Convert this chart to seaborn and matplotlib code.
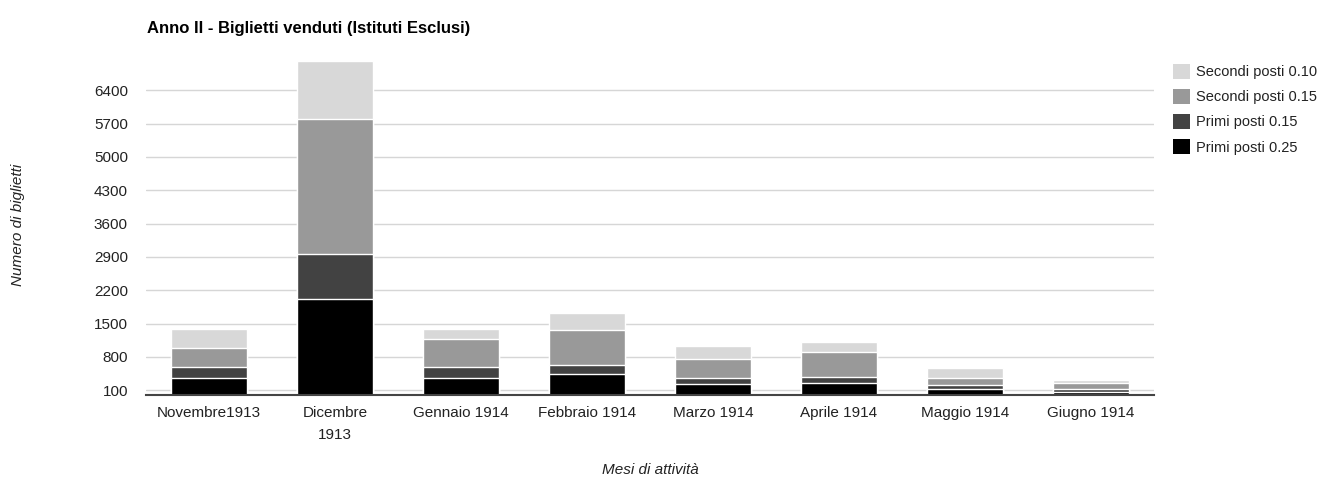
import matplotlib
matplotlib.use("Agg")
import matplotlib.pyplot as plt
import seaborn as sns
import numpy as np
import pandas as pd
from matplotlib.patches import Patch

months = ["Novembre1913", "Dicembre\n1913", "Gennaio 1914", "Febbraio 1914",
          "Marzo 1914", "Aprile 1914", "Maggio 1914", "Giugno 1914"]
primi_025 = [363, 2009, 350, 441, 231, 252, 119, 70]
primi_015 = [225, 945, 245, 196, 133, 133, 84, 49]
secondi_015 = [392, 2849, 581, 721, 392, 511, 161, 126]
secondi_010 = [413, 1217, 203, 364, 273, 224, 210, 70]
series_names = ["Primi posti 0.25", "Primi posti 0.15", "Secondi posti 0.15", "Secondi posti 0.10"]
y_ticks = [100, 800, 1500, 2200, 2900, 3600, 4300, 5000, 5700, 6400]

colors = ["#000000", "#424242", "#999999", "#d8d8d8"]

sns.set_theme(style="white")
plt.rcParams["font.family"] = ["Liberation Sans", "DejaVu Sans"]

fig = plt.figure(figsize=(13.27, 4.79), dpi=100)
W, H = 1327, 479
ax = fig.add_axes([146 / W, (H - 395) / H, (1154 - 146) / W, (395 - 57) / H])

series = [primi_025, primi_015, secondi_015, secondi_010]
cum = np.cumsum(np.array(series), axis=0)
df = pd.DataFrame({"mese": months})
for i in range(4):
    df[f"c{i}"] = cum[i]

for i in reversed(range(4)):
    sns.barplot(data=df, x="mese", y=f"c{i}", color=colors[i], saturation=1,
                width=0.6, edgecolor="white", linewidth=1.0, ax=ax, zorder=3)

ax.set_ylim(0, 7100)
ax.set_xlim(-0.5, len(months) - 0.5)
ax.set_yticks(y_ticks)
ax.yaxis.grid(True, color="#d6d6d6", linewidth=1, zorder=0)
ax.set_axisbelow(True)
for s in ["top", "right", "left"]:
    ax.spines[s].set_visible(False)
ax.spines["bottom"].set_color("#444444")
ax.spines["bottom"].set_linewidth(1.5)
ax.spines["bottom"].set_zorder(5)
ax.tick_params(axis="both", length=0, labelsize=11, colors="#222222")
ax.tick_params(axis="y", pad=13)
ax.tick_params(axis="x", pad=8)
for lab in ax.get_xticklabels():
    lab.set_linespacing(1.7)
ax.set_xlabel("")
ax.set_ylabel("")
fig.text(650 / W, 1 - 470 / H, "Mesi di attività", fontsize=11, style="italic",
         color="#222222", ha="center", va="center")
fig.text(18 / W, 1 - 225 / H, "Numero di biglietti", fontsize=11, style="italic",
         color="#222222", ha="center", va="center", rotation=90)
fig.text(147 / W, 1 - 29 / H, "Anno II - Biglietti venduti (Istituti Esclusi)",
         fontsize=12, fontweight="bold", color="#000000", va="center", ha="left")

handles = [Patch(facecolor=colors[i], edgecolor="none", label=series_names[i]) for i in reversed(range(4))]
fig.legend(handles=handles, loc="upper left", bbox_to_anchor=(1160 / W, 1 - 51 / H),
           frameon=False, fontsize=10.5, handlelength=1.15, handleheight=1.15,
           handletextpad=0.45, labelspacing=0.68, labelcolor="#222222")

fig.savefig("out.png", dpi=100, facecolor="white")
